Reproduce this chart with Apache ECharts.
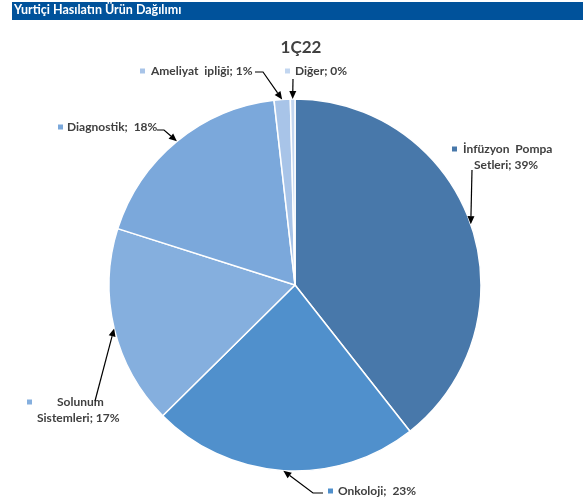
<!DOCTYPE html>
<html>
<head>
<meta charset="utf-8">
<script src="https://cdn.jsdelivr.net/npm/echarts@6/dist/echarts.min.js"></script>
<style>
  html, body { margin: 0; padding: 0; background: #fff; }
  #chart { width: 583px; height: 502px; }
</style>
</head>
<body>
<div id="chart"></div>
<script>
// Domestic revenue split by product group, 1Ç22
const headerTitle = 'Yurtiçi Hasılatın Ürün Dağılımı';
const periodTitle = '1Ç22';
const categories = ['İnfüzyon Pompa Setleri', 'Onkoloji', 'Solunum Sistemleri', 'Diagnostik', 'Ameliyat ipliği', 'Diğer'];
const shares = [39.4, 23.2, 17.3, 18.3, 1.4, 0.4];
const sliceColors = ['#4878AA', '#5090CC', '#85AFDE', '#7BA8DB', '#A8C4E8', '#C2D6F0'];

// Label placement: anchor x/y, text lines with left offsets, and arrow start/elbow points
const labelLayouts = [
  { x: 452, y: 157, lines: [[11, 'İnfüzyon  Pompa'], [22, 'Setleri; 39%']], from: [472, 170], elbow: null },
  { x: 328, y: 491, lines: [[10, 'Onkoloji;  23%']], from: [323, 493], elbow: [313, 493] },
  { x: 27, y: 410, lines: [[30, 'Solunum'], [10, 'Sistemleri; 17%']], from: [95, 401], elbow: null },
  { x: 58, y: 127, lines: [[9, 'Diagnostik;  18%']], from: [157, 130], elbow: [164, 130] },
  { x: 140, y: 71, lines: [[11, 'Ameliyat  ipliği; 1%']], from: [255, 72], elbow: [263, 72] },
  { x: 285, y: 71, lines: [[10, 'Diğer; 0%']], from: [293, 79], elbow: null }
];

const FONT = 'Lato, "Liberation Sans", sans-serif';

function labelText(i) {
  const L = labelLayouts[i];
  return L.lines.map(function (ln, k) {
    const head = k === 0 ? '{m' + i + '|}' : '';
    return head + '{sp' + i + '_' + k + '|}{t|' + ln[1] + '}';
  }).join('\n');
}

function labelRich(i) {
  const L = labelLayouts[i];
  const rich = {
    t: { fontFamily: FONT, fontWeight: 'bold', fontSize: 12, color: '#404040', lineHeight: 16 }
  };
  rich['m' + i] = { width: 5, height: 5, backgroundColor: sliceColors[i] };
  L.lines.forEach(function (ln, k) {
    rich['sp' + i + '_' + k] = { width: k === 0 ? ln[0] - 5 : ln[0], height: 1 };
  });
  return rich;
}

const seriesData = categories.map(function (name, i) {
  return {
    name: name,
    value: shares[i],
    itemStyle: { color: sliceColors[i] },
    label: { formatter: labelText(i), rich: labelRich(i) }
  };
});

const chart = echarts.init(document.getElementById('chart'), null, { renderer: 'canvas' });

chart.setOption({
  backgroundColor: '#ffffff',
  animation: false,
  graphic: [
    { type: 'rect', left: 12, top: 2, shape: { width: 571, height: 18 }, style: { fill: '#00529B' }, z: 10 },
    { type: 'text', left: 14, top: 3.5, style: { text: headerTitle, fill: '#ffffff', font: 'bold 12.5px ' + FONT }, z: 11 }
  ],
  title: {
    text: periodTitle,
    left: 296,
    top: 34,
    textAlign: 'center',
    textStyle: { fontFamily: FONT, fontWeight: 'bold', fontSize: 17, color: '#404040' }
  },
  series: [{
    type: 'pie',
    center: [295, 285],
    radius: 186,
    startAngle: 90,
    clockwise: true,
    avoidLabelOverlap: false,
    itemStyle: { borderColor: '#ffffff', borderWidth: 1.5 },
    label: { show: true, position: 'outside' },
    labelLine: { show: false },
    labelLayout: function (params) {
      const L = labelLayouts[params.dataIndex];
      return { x: L.x, y: L.y, align: 'left', verticalAlign: 'middle' };
    },
    emphasis: { disabled: true },
    data: seriesData
  }]
});

// Arrows from each label to the outer edge of its slice, at the slice's mid angle
function drawArrows() {
  const data = chart.getModel().getSeriesByIndex(0).getData();
  const elements = [];
  labelLayouts.forEach(function (L, i) {
    const lay = data.getItemLayout(i);
    const mid = (lay.startAngle + lay.endAngle) / 2;
    const tip = [lay.cx + lay.r * Math.cos(mid), lay.cy + lay.r * Math.sin(mid)];
    const prev = L.elbow || L.from;
    const dx = tip[0] - prev[0], dy = tip[1] - prev[1];
    const len = Math.sqrt(dx * dx + dy * dy);
    const ux = dx / len, uy = dy / len;
    const headLen = 8, headHalf = 3.5;
    const base = [tip[0] - ux * headLen, tip[1] - uy * headLen];
    const pts = [L.from];
    if (L.elbow) pts.push(L.elbow);
    pts.push(base);
    elements.push({
      type: 'polyline', shape: { points: pts },
      style: { stroke: '#000000', lineWidth: 1.2, fill: null }, z: 20
    });
    elements.push({
      type: 'polygon',
      shape: { points: [tip, [base[0] - uy * headHalf, base[1] + ux * headHalf], [base[0] + uy * headHalf, base[1] - ux * headHalf]] },
      style: { fill: '#000000' }, z: 20
    });
  });
  chart.setOption({ graphic: elements.map(function (e, k) { e.id = 'arrow' + k; return e; }) });
}
drawArrows();
</script>
</body>
</html>
